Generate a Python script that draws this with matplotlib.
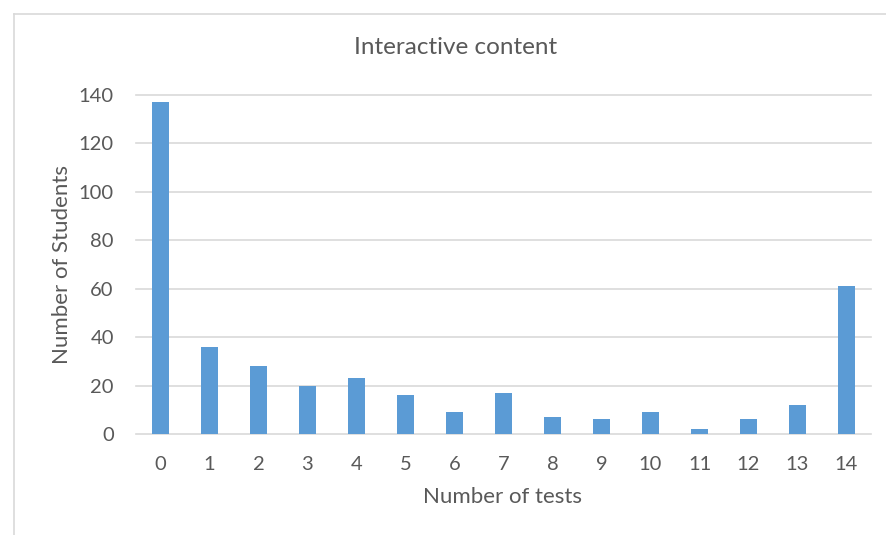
import matplotlib
matplotlib.use("Agg")
import matplotlib.pyplot as plt

tests = list(range(15))
students = [137, 36, 28, 20, 23, 16, 9, 17, 7, 6, 9, 2, 6, 12, 61]
y_ticks = [0, 20, 40, 60, 80, 100, 120, 140]

plt.rcParams['font.family'] = ['Lato', 'DejaVu Sans']
text_col = '#595959'
grid_col = '#D9D9D9'
bar_col = '#5B9BD5'

W, H = 887, 535
fig = plt.figure(figsize=(W / 100, H / 100), dpi=100)
fig.patch.set_facecolor('white')

# chart frame (top and left edges visible)
fig.add_artist(plt.Line2D([14/W, 1.0], [1 - 14/H, 1 - 14/H],
                          transform=fig.transFigure, color='#D9D9D9', lw=1.2))
fig.add_artist(plt.Line2D([14/W, 14/W], [0, 1 - 14/H],
                          transform=fig.transFigure, color='#D9D9D9', lw=1.2))

ax = fig.add_axes([136/W, 1 - 434/H, (871 - 136)/W, (434 - 95)/H])
ax.bar(tests, students, width=0.34, color=bar_col, zorder=3)
ax.set_xlim(-0.5, 14.5)
ax.set_ylim(0, 140)
ax.set_yticks(y_ticks)
ax.set_xticks(tests)
ax.yaxis.grid(True, color=grid_col, lw=1.2, zorder=0)
ax.set_axisbelow(True)
for s in ax.spines.values():
    s.set_visible(False)
ax.tick_params(length=0, labelsize=14.5, labelcolor=text_col)
ax.tick_params(axis='y', pad=16)
ax.tick_params(axis='x', pad=16)
for gl in ax.get_ygridlines():
    gl.set_clip_on(False)

fig.text(503/W, 1 - 497/H, 'Number of tests', ha='center', va='center',
         fontsize=16, color=text_col)
fig.text(62/W, 1 - 265/H, 'Number of Students', ha='center', va='center',
         rotation=90, fontsize=16, color=text_col)
fig.text(456/W, 1 - 48/H, 'Interactive content', ha='center', va='center',
         fontsize=17.5, color=text_col)

fig.savefig('out.png', dpi=100, facecolor='white')
